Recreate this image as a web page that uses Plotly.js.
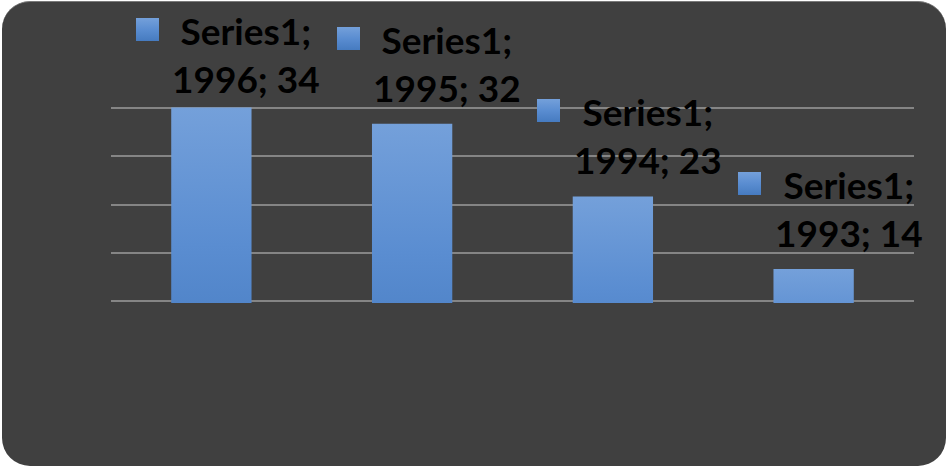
<!DOCTYPE html>
<html>
<head>
<meta charset="utf-8">
<script src="https://cdn.plot.ly/plotly-3.0.1.min.js"></script>
<style>
  html, body { margin: 0; padding: 0; background: #ffffff; }
  #bg { position: absolute; left: 2px; top: 1px; width: 944px; height: 465px;
        background: #404040; border-radius: 28px; border-top: 1px solid #7a7a7a; box-sizing: border-box; }
  #chart { position: absolute; left: 0; top: 0; width: 948px; height: 469px; }
</style>
</head>
<body>
<div id="bg"></div>
<div id="chart"></div>
<script>
// ---- data ----
var seriesName = 'Series1';
var categories = ['1996', '1995', '1994', '1993'];
var values = [34, 32, 23, 14];
var yTickValues = [10, 16, 22, 28, 34];

// ---- style ----
var barColor = '#5b8dd2';
var labelDrop = [7, 0, 0, 0]; // first label pushed down by chart top edge

var trace = {
  type: 'bar',
  x: categories,
  y: values,
  marker: { color: barColor, line: { width: 0 } },
  hoverinfo: 'none',
  showlegend: false
};

var annotations = [];
categories.forEach(function (c, i) {
  // label text
  annotations.push({
    xref: 'x', yref: 'y', x: i, y: values[i],
    text: seriesName + ';<br>' + c + '; ' + values[i],
    showarrow: false,
    xanchor: 'center', yanchor: 'bottom',
    xshift: 35, yshift: 12 - labelDrop[i],
    font: { family: 'Lato, sans-serif', size: 37, color: '#000000', weight: 'bold' },
    align: 'center'
  });
  // legend key square
  annotations.push({
    xref: 'x', yref: 'y', x: i, y: values[i],
    text: ' ', showarrow: false,
    width: 23, height: 23, borderpad: 0, borderwidth: 0,
    bgcolor: barColor,
    xanchor: 'center', yanchor: 'bottom',
    xshift: -64, yshift: 74 - labelDrop[i],
    font: { size: 10, color: barColor }
  });
});

var layout = {
  width: 948, height: 469,
  margin: { l: 111, r: 34, t: 106, b: 166, pad: 0 },
  paper_bgcolor: 'rgba(0,0,0,0)',
  plot_bgcolor: 'rgba(0,0,0,0)',
  bargap: 0.6,
  xaxis: { type: 'category', range: [-0.5, categories.length - 0.5], autorange: false,
           showticklabels: false, showgrid: false, zeroline: false,
           showline: false, ticks: '', fixedrange: true },
  yaxis: { range: [9.8, 34.2], autorange: false, tickmode: 'array', tickvals: yTickValues,
           showticklabels: false, showgrid: true, gridcolor: '#858585', gridwidth: 2,
           zeroline: false, showline: false, ticks: '', fixedrange: true },
  annotations: annotations,
  showlegend: false
};

Plotly.newPlot('chart', [trace], layout, { staticPlot: true, displayModeBar: false }).then(function (gd) {
  var svg = gd.querySelector('svg.main-svg');
  var defs = svg.querySelector('defs');
  var ns = 'http://www.w3.org/2000/svg';
  var grad = document.createElementNS(ns, 'linearGradient');
  grad.setAttribute('id', 'barGrad');
  grad.setAttribute('x1', '0'); grad.setAttribute('y1', '0');
  grad.setAttribute('x2', '0'); grad.setAttribute('y2', '1');
  [['0%', '#74a0da'], ['50%', '#5a8dd1'], ['100%', '#467bc0']].forEach(function (s) {
    var st = document.createElementNS(ns, 'stop');
    st.setAttribute('offset', s[0]); st.setAttribute('stop-color', s[1]);
    grad.appendChild(st);
  });
  defs.appendChild(grad);
  gd.querySelectorAll('.bars path').forEach(function (p) {
    p.style.fill = 'url(#barGrad)';
  });
  var svgs = gd.querySelectorAll('svg.main-svg');
  svgs.forEach(function (s) {
    s.querySelectorAll('.annotation rect.bg').forEach(function (r) {
      var f = r.style.fill || r.getAttribute('fill') || '';
      if (f && f !== 'rgba(0, 0, 0, 0)' && f !== 'transparent') r.style.fill = 'url(#barGrad)';
    });
  });
});
</script>
</body>
</html>
